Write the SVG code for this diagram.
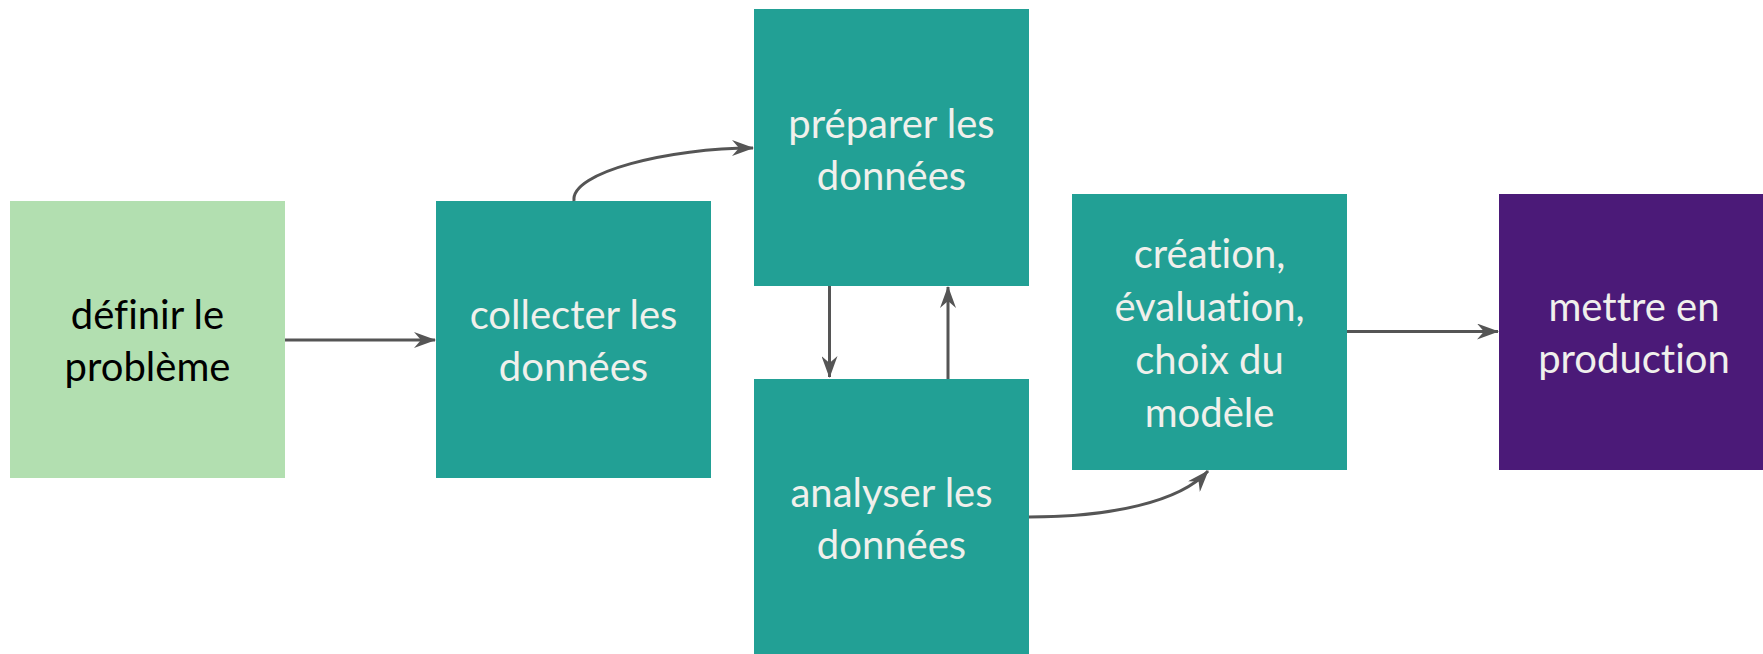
<svg xmlns="http://www.w3.org/2000/svg" width="1763" height="654" viewBox="0 0 1763 654">
<style>
.box{stroke:none}
.teal{fill:#22A095}
.t{font-family:Lato,"Open Sans","DejaVu Sans",sans-serif;font-size:40px;text-anchor:middle;fill:#F0F0EC;font-variant-ligatures:none;font-feature-settings:"liga" 0}
.dark{fill:#000}
.c{fill:none;stroke:#555555;stroke-width:3}
</style>
<defs>
<marker id="ah" viewBox="0 0 22 16" refX="21" refY="8" markerWidth="22" markerHeight="16" markerUnits="userSpaceOnUse" orient="auto">
<path d="M0,0 L22,8 L0,16 L7,8 z" fill="#555555"/>
</marker>
</defs>
<rect width="1763" height="654" fill="#FFFFFF"/>
<g id="n-definir">
<rect class="box" x="10" y="201" width="275" height="277" fill="#B2DFB0"/>
<text class="t dark" x="147.5" y="329">définir le</text>
<text class="t dark" x="147.5" y="381">problème</text>
</g>
<g id="n-collecter">
<rect class="box teal" x="436" y="201" width="275" height="277"/>
<text class="t" x="573.5" y="329">collecter les</text>
<text class="t" x="573.5" y="381">données</text>
</g>
<g id="n-preparer">
<rect class="box teal" x="754" y="9" width="275" height="277"/>
<text class="t" x="891.5" y="138">préparer les</text>
<text class="t" x="891.5" y="190">données</text>
</g>
<g id="n-analyser">
<rect class="box teal" x="754" y="379" width="275" height="280"/>
<text class="t" x="891.5" y="507">analyser les</text>
<text class="t" x="891.5" y="559">données</text>
</g>
<g id="n-creation">
<rect class="box teal" x="1072" y="194" width="275" height="276"/>
<text class="t" x="1209.5" y="268">création,</text>
<text class="t" x="1209.5" y="321">évaluation,</text>
<text class="t" x="1209.5" y="374">choix du</text>
<text class="t" x="1209.5" y="427">modèle</text>
</g>
<g id="n-production">
<rect class="box" x="1499" y="194" width="264" height="276" fill="#4B1A78"/>
<text class="t" x="1634" y="321">mettre en</text>
<text class="t" x="1634" y="373">production</text>
</g>
<g id="connectors">
<path class="c" d="M285,340 L435,340" marker-end="url(#ah)"/>
<path class="c" d="M574,201 C570,172 670,148 753,148" marker-end="url(#ah)"/>
<path class="c" d="M829.5,286 L829.5,377" marker-end="url(#ah)"/>
<path class="c" d="M948,379 L948,287" marker-end="url(#ah)"/>
<path class="c" d="M1029,517 C1110,517 1180,502 1208,471" marker-end="url(#ah)"/>
<path class="c" d="M1347,331.5 L1498,331.5" marker-end="url(#ah)"/>
</g>
</svg>
